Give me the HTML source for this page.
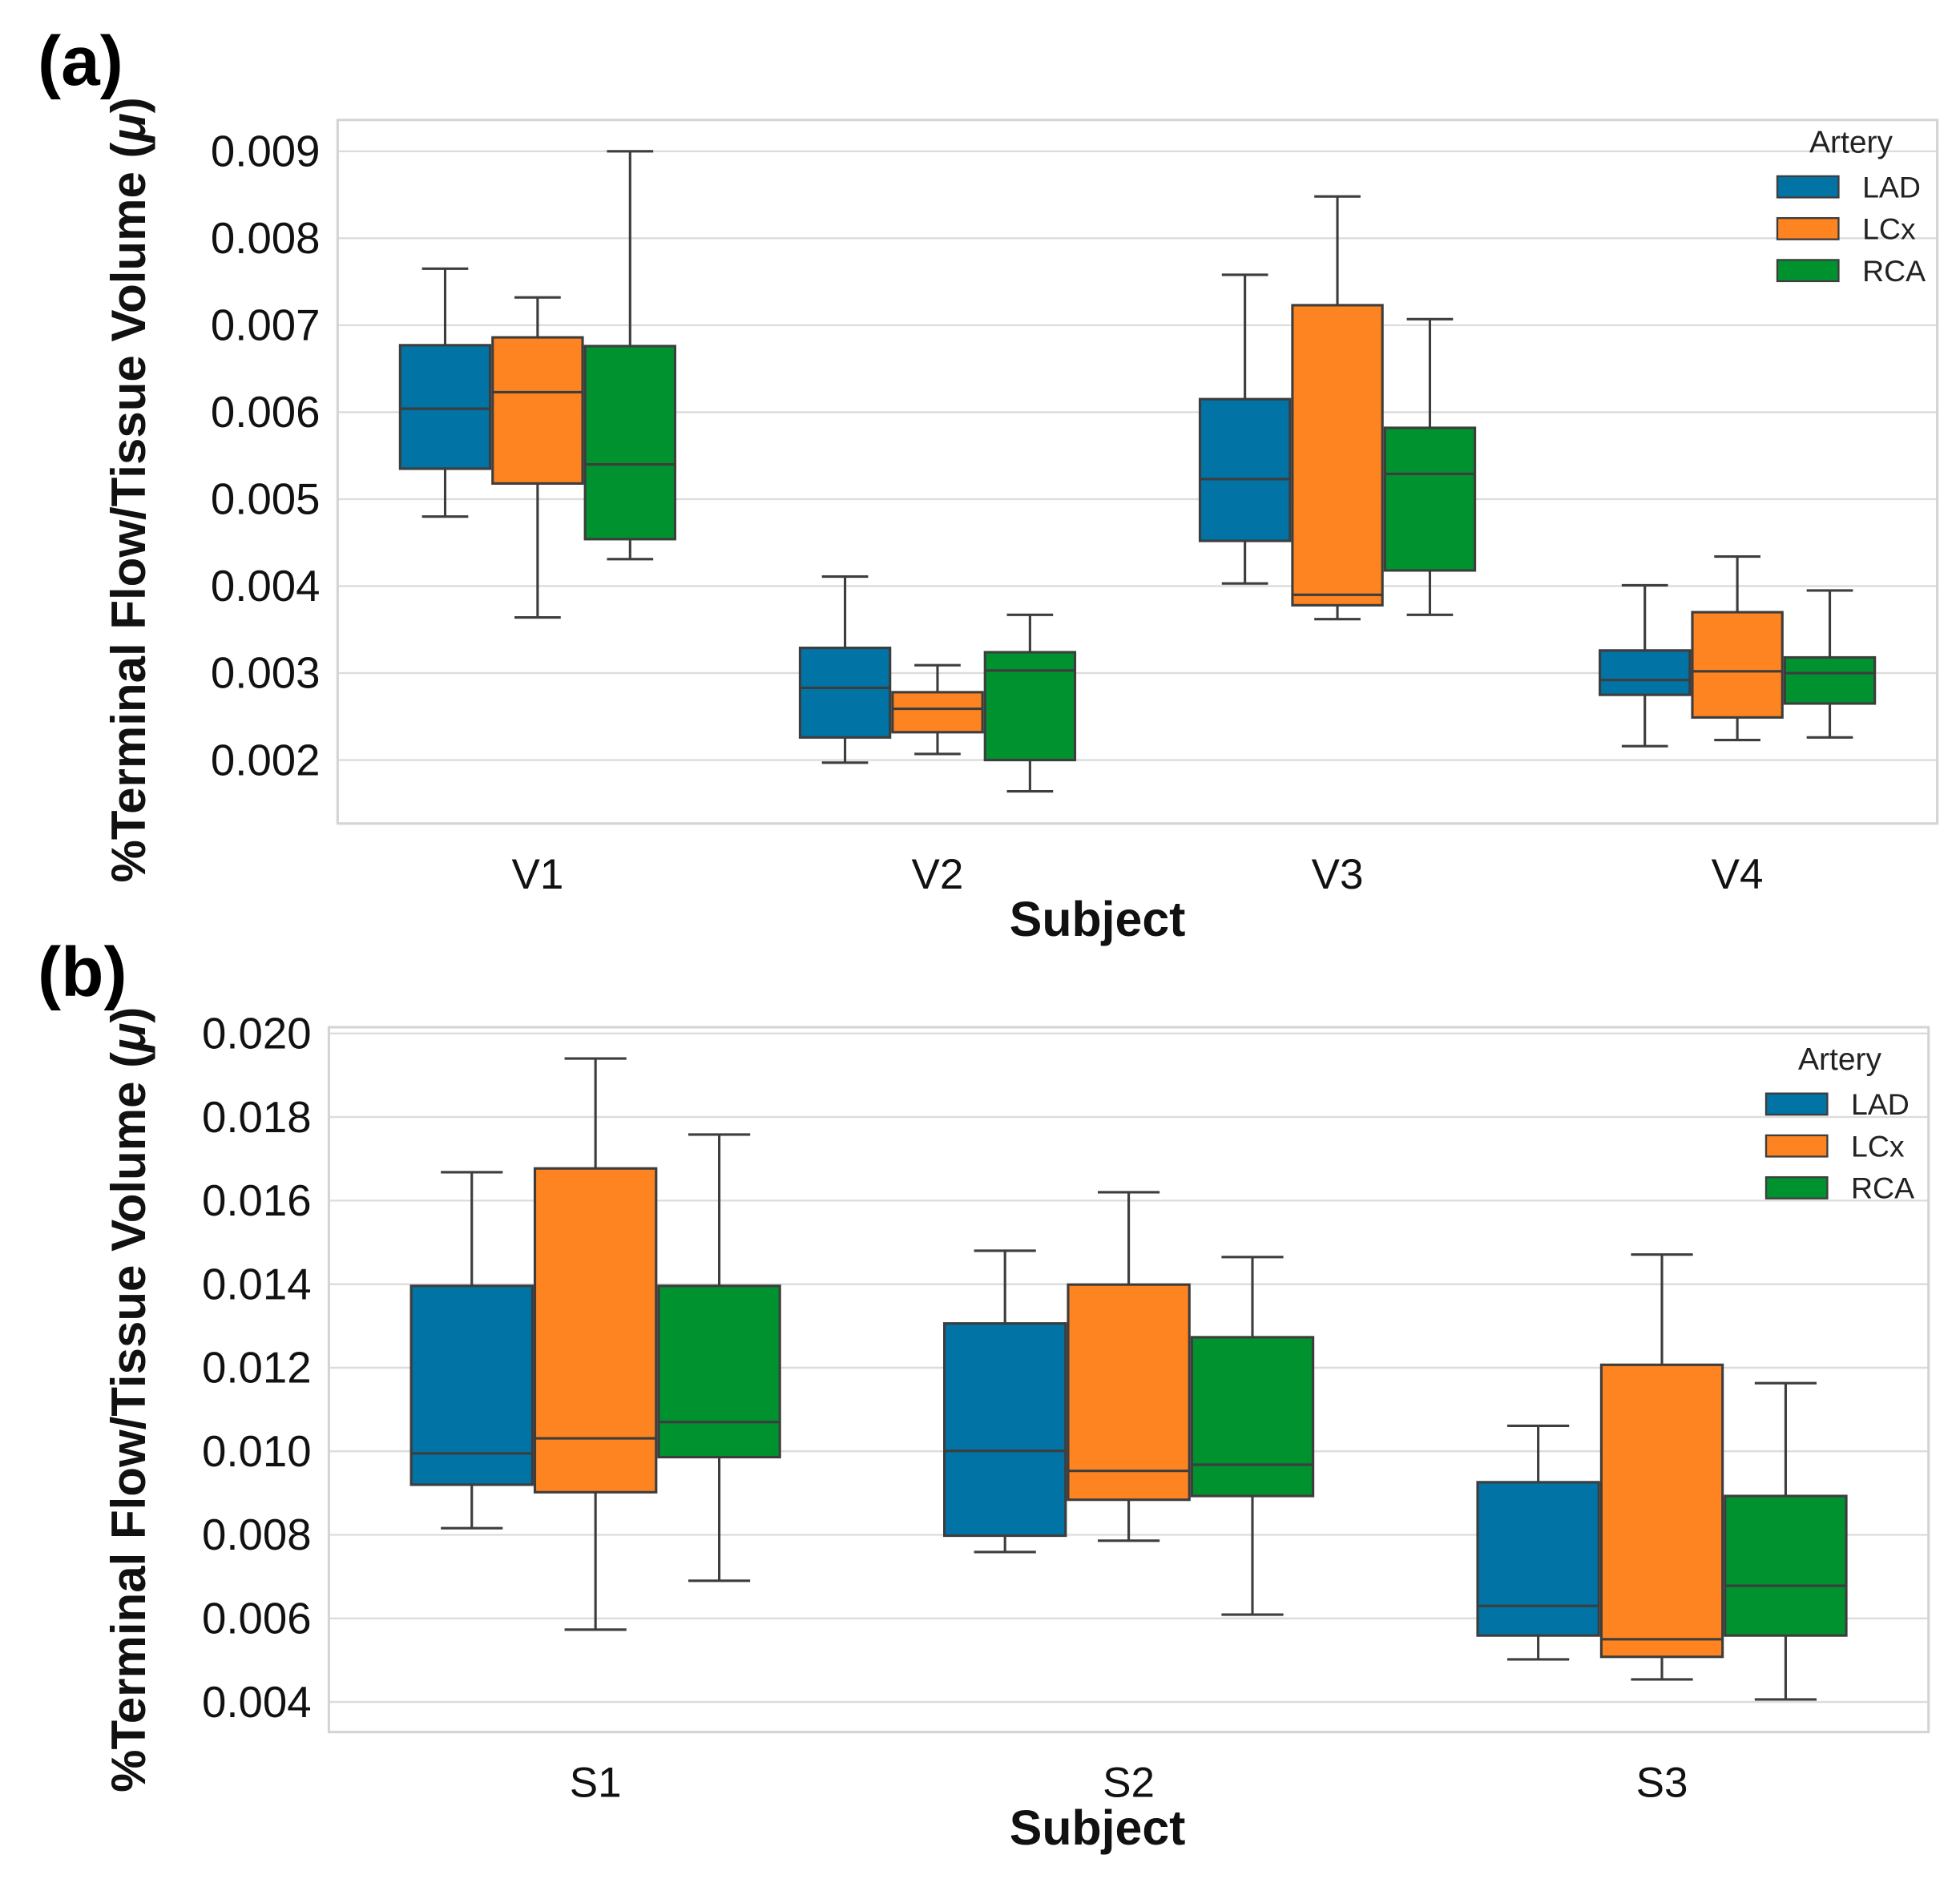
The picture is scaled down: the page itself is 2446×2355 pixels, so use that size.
<!DOCTYPE html>
<html><head><meta charset="utf-8"><style>
html,body{margin:0;padding:0;background:#fff;}
svg{display:block;font-family:"Liberation Sans",Arial,sans-serif;}
</style></head><body>
<svg id="chart" width="2446" height="2355" viewBox="0 0 1568 1510" xmlns="http://www.w3.org/2000/svg">
<text x="30" y="68" font-size="56" font-weight="bold">(a)</text>
<text x="30" y="797" font-size="56" font-weight="bold">(b)</text>
</svg>
<script>
// Panel (a) data
const catsA = ["V1","V2","V3","V4"];
const seriesNames = ["LAD","LCx","RCA"];
const ladA = [[0.0048,0.00535,0.00604,0.00677,0.00765],[0.00197,0.00226,0.00283,0.00329,0.00411],[0.00403,0.00452,0.00523,0.00615,0.00758],[0.00216,0.00275,0.00292,0.00326,0.00401]];
const lcxA = [[0.00364,0.00518,0.00623,0.00686,0.00732],[0.00207,0.00232,0.00259,0.00278,0.00309],[0.00362,0.00378,0.0039,0.00723,0.00848],[0.00223,0.00249,0.00302,0.0037,0.00434]];
const rcaA = [[0.00431,0.00454,0.0054,0.00676,0.009],[0.00164,0.002,0.00303,0.00324,0.00367],[0.00367,0.00418,0.00529,0.00582,0.00707],[0.00226,0.00265,0.003,0.00318,0.00395]];
const ticksA = [0.002,0.003,0.004,0.005,0.006,0.007,0.008,0.009];
const tickLabelsA = ["0.002","0.003","0.004","0.005","0.006","0.007","0.008","0.009"];
// Panel (b) data
const catsB = ["S1","S2","S3"];
const ladB = [[0.00816,0.0092,0.00995,0.01396,0.01668],[0.00759,0.00798,0.01001,0.01306,0.0148],[0.00502,0.00559,0.0063,0.00926,0.01061]];
const lcxB = [[0.00573,0.00902,0.01031,0.01677,0.0194],[0.00786,0.00884,0.00953,0.01399,0.0162],[0.00454,0.00508,0.0055,0.01207,0.01471]];
const rcaB = [[0.0069,0.00986,0.0107,0.01396,0.01758],[0.00609,0.00893,0.00968,0.01273,0.01465],[0.00406,0.00559,0.00678,0.00893,0.01163]];
const ticksB = [0.004,0.006,0.008,0.010,0.012,0.014,0.016,0.018,0.020];
const tickLabelsB = ["0.004","0.006","0.008","0.010","0.012","0.014","0.016","0.018","0.020"];

const colors = ["#0173a5","#fd8420","#00922f"];
const NS = "http://www.w3.org/2000/svg";
const svg = document.getElementById("chart");
function mk(tag, attrs, parent){
  const e = document.createElementNS(NS, tag);
  for (const k in attrs) e.setAttribute(k, attrs[k]);
  (parent||svg).appendChild(e);
  return e;
}

function panel(p){
  const g = mk("g", {});
  
  
  const y = v => p.bottom - (v - p.ymin) / (p.ymax - p.ymin) * (p.bottom - p.top);
  const n = p.cats.length;
  const step = (p.right - p.left) / n;
  const x = i => p.left + step * (i + 0.5);
  p.ticks.forEach((t, i) => {
    const ln = mk("line", {x1:p.left, x2:p.right, y1:y(t), y2:y(t), stroke:"#dcdcdc", "stroke-width":1.5}, g);
    
    
    const tx = mk("text", {x:p.left - 14, y:y(t) + 12, "font-size":35, "text-anchor":"end", fill:"#111"}, g);
    tx.textContent = p.tickLabels[i];
    
    
  });
  const fr = mk("rect", {x:p.left, y:p.top, width:p.right - p.left, height:p.bottom - p.top, fill:"none", stroke:"#d4d4d4", "stroke-width":2}, g);
  
  
  const series = [p.lad, p.lcx, p.rca];
  p.cats.forEach((c, i) => {
    series.forEach((s, j) => {
      const d = s[i];
      const cx = x(i) + (j - 1) * p.bw;
      const bg = mk("g", {}, g);
      
      
      const st = {stroke:"#3d3d3d", "stroke-width":2};
      mk("line", Object.assign({x1:cx, x2:cx, y1:y(d[0]), y2:y(d[1])}, st), bg);
      mk("line", Object.assign({x1:cx, x2:cx, y1:y(d[3]), y2:y(d[4])}, st), bg);
      mk("line", Object.assign({x1:cx - p.bw/4, x2:cx + p.bw/4, y1:y(d[0]), y2:y(d[0])}, st), bg);
      mk("line", Object.assign({x1:cx - p.bw/4, x2:cx + p.bw/4, y1:y(d[4]), y2:y(d[4])}, st), bg);
      mk("rect", Object.assign({x:cx - p.bw/2 + 1, y:y(d[3]), width:p.bw - 2, height:y(d[1]) - y(d[3]), fill:colors[j]}, st), bg);
      mk("line", Object.assign({x1:cx - p.bw/2 + 1, x2:cx + p.bw/2 - 1, y1:y(d[2]), y2:y(d[2])}, st), bg);
    });
    const xt = mk("text", {x:x(i), y:p.bottom + 52, "font-size":34, "text-anchor":"middle", fill:"#111"}, g);
    xt.textContent = c;
    
    
  });
  const xl = mk("text", {x:878, y:p.bottom + 90, "font-size":39, "font-weight":"bold", "text-anchor":"middle", fill:"#111"}, g);
  xl.textContent = "Subject";
  
  
  const yl = mk("text", {x:0, y:0, "font-size":38.5, "font-weight":"bold", "text-anchor":"middle", fill:"#111", transform:"translate(" + p.ylx + "," + p.yly + ") rotate(-90)"}, g);
  yl.innerHTML = '%Terminal Flow/Tissue Volume (<tspan font-style="italic">μ</tspan>)';
  
  
  const lg = mk("g", {}, g);
  
  
  const lt = mk("text", {x:p.lx + 59, y:p.ly, "font-size":25, "text-anchor":"middle", fill:"#222"}, lg);
  lt.textContent = "Artery";
  
  
  seriesNames.forEach((nm, j) => {
    const e = mk("g", {}, lg);
    
    
    const yy = p.ly + 19 + j * 33.5;
    mk("rect", {x:p.lx, y:yy, width:49, height:17, fill:colors[j], stroke:"#3d3d3d", "stroke-width":1.5}, e);
    const t = mk("text", {x:p.lx + 68, y:yy + 17, "font-size":24, fill:"#222"}, e);
    t.textContent = nm;
  });
}

panel({id:"panel-a", cats:catsA, lad:ladA, lcx:lcxA, rca:rcaA, ticks:ticksA, tickLabels:tickLabelsA,
  left:270, right:1550, top:96, bottom:659, ymin:0.00127, ymax:0.00936, bw:74,
  ylx:116, yly:392, lx:1422, ly:122});
panel({id:"panel-b", cats:catsB, lad:ladB, lcx:lcxB, rca:rcaB, ticks:ticksB, tickLabels:tickLabelsB,
  left:263, right:1543, top:822, bottom:1386, ymin:0.00328, ymax:0.02015, bw:99,
  ylx:116, yly:1120, lx:1413, ly:856});
</script>
</body></html>
